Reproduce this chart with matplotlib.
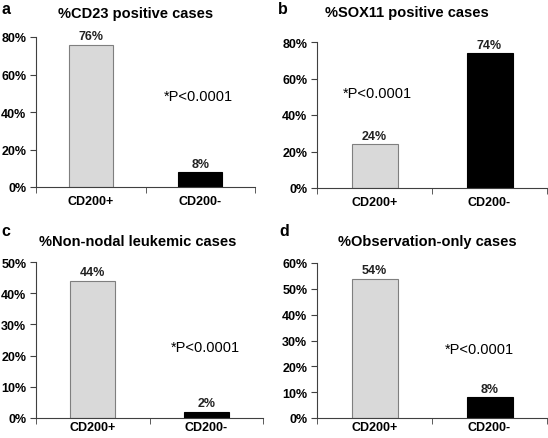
import matplotlib.pyplot as plt

plt.rcParams['font.family'] = ['Liberation Sans', 'DejaVu Sans']

categories = ['CD200+', 'CD200-']
letters = ['a', 'b', 'c', 'd']
titles = ['%CD23 positive cases', '%SOX11 positive cases',
          '%Non-nodal leukemic cases', '%Observation-only cases']
values = [[76, 8], [24, 74], [44, 2], [54, 8]]
ymax = [80, 80, 50, 60]
ystep = [20, 20, 10, 10]
p_text = '*P<0.0001'

# axes boxes in pixels (left, right, bottom, top) on a 548x439 canvas
W, H = 548, 439
boxes = [(36, 255, 188, 38), (317, 547, 189, 43),
         (36, 263, 419, 263), (317, 547, 419, 264)]
# title centre, letter position, p-text centre (pixels)
title_xy = [(136, 14), (407, 13), (138, 242), (427, 242)]
letter_xy = [(1, 9), (278, 9), (1, 232), (279, 232)]
p_xy = [(198, 97), (377, 94), (205, 348), (479, 350)]
xpad = [6, 6, 2.5, 2.5]

colors = ['#d9d9d9', '#000000']
edges = ['#7f7f7f', '#000000']
axis_col = '#404040'

fig = plt.figure(figsize=(W / 100, H / 100), dpi=100)

for i in range(4):
    l, r, b, t = boxes[i]
    ax = fig.add_axes([l / W, 1 - b / H, (r - l) / W, (b - t) / H])
    ax.bar(range(2), values[i], width=0.4, color=colors, edgecolor=edges, linewidth=0.8)
    for x, v in enumerate(values[i]):
        ax.text(x, v + ymax[i] * 0.015, f'{v}%', ha='center', va='bottom',
                fontsize=9, fontweight='bold', color='#222222')
    ax.set_xlim(-0.5, 1.5)
    ax.set_ylim(0, ymax[i])
    ax.set_yticks(range(0, ymax[i] + 1, ystep[i]))
    ax.set_yticklabels([f'{v}%' for v in range(0, ymax[i] + 1, ystep[i])])
    ax.set_xticks([0, 1])
    ax.set_xticklabels(categories)
    ax.set_xticks([-0.5, 0.5, 1.5], minor=True)
    ax.tick_params(axis='x', which='major', length=0, pad=xpad[i])
    ax.tick_params(axis='x', which='minor', length=4, direction='out', color=axis_col)
    ax.tick_params(axis='y', length=4, direction='out', color=axis_col, pad=3)
    for lab in ax.get_xticklabels() + ax.get_yticklabels():
        lab.set_fontsize(9)
        lab.set_fontweight('bold')
    for s in ['top', 'right']:
        ax.spines[s].set_visible(False)
    for s in ['left', 'bottom']:
        ax.spines[s].set_color(axis_col)
        ax.spines[s].set_linewidth(0.8)
    ax.set_facecolor('none')

    tx, ty = title_xy[i]
    fig.text(tx / W, 1 - ty / H, titles[i], ha='center', va='center',
             fontsize=10.5, fontweight='bold')
    lx, ly = letter_xy[i]
    fig.text(lx / W, 1 - ly / H, letters[i], ha='left', va='center',
             fontsize=11.5, fontweight='bold')
    px, py = p_xy[i]
    fig.text(px / W, 1 - py / H, p_text, ha='center', va='center', fontsize=10.5)

fig.savefig('out.png', dpi=100)
